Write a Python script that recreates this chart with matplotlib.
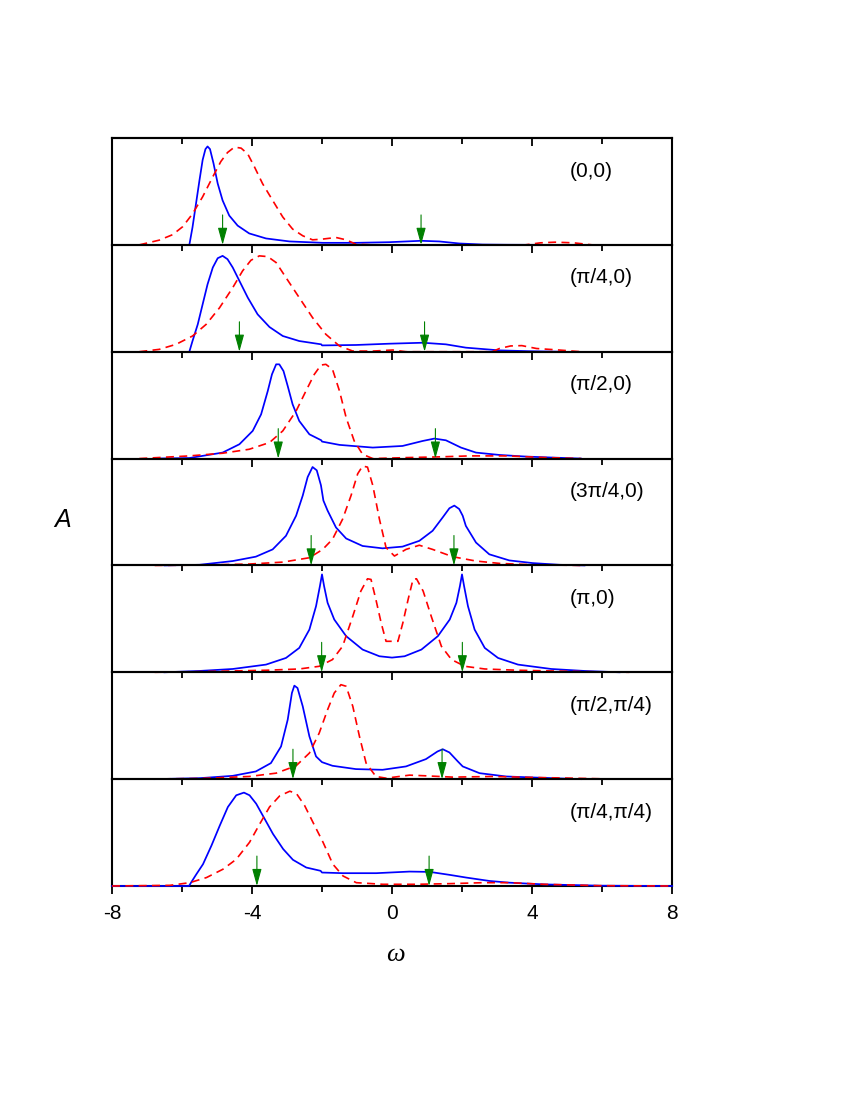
import matplotlib
matplotlib.use('Agg')
import matplotlib.pyplot as plt
from matplotlib.ticker import MultipleLocator

plt.rcParams['font.family'] = ['Liberation Sans', 'DejaVu Sans']
plt.rcParams['axes.unicode_minus'] = False

# panel labels (top to bottom)
labels = ['(0,0)', '(π/4,0)', '(π/2,0)', '(3π/4,0)', '(π,0)', '(π/2,π/4)', '(π/4,π/4)']

# (0,0)
blue1_x = [-5.79, -5.70, -5.60, -5.50, -5.41, -5.33, -5.27, -5.20, -5.10, -4.98, -4.84, -4.65, -4.41, -4.08, -3.60, -2.93, -1.98, -1.03, -0.08, 0.83, 1.35, 1.92, 2.59, 3.3, 4.2]
blue1_y = [0, 0.164, 0.385, 0.606, 0.795, 0.896, 0.921, 0.896, 0.763, 0.574, 0.416, 0.274, 0.18, 0.107, 0.06, 0.032, 0.019, 0.019, 0.025, 0.038, 0.032, 0.013, 0.003, 0.001, 0]
red1_x = [-7.22, -6.65, -6.27, -5.98, -5.70, -5.41, -5.12, -4.89, -4.70, -4.50, -4.31, -4.12, -3.93, -3.70, -3.41, -3.12, -2.84, -2.55, -2.27, -1.98, -1.60, -1.31, -1.03, -0.55, 3.81, 4.24, 4.66, 5.19, 5.72]
red1_y = [0, 0.044, 0.095, 0.17, 0.29, 0.45, 0.637, 0.78, 0.864, 0.915, 0.905, 0.85, 0.73, 0.574, 0.416, 0.26, 0.148, 0.085, 0.047, 0.054, 0.069, 0.047, 0.006, 0, 0, 0.019, 0.025, 0.019, 0]

# (pi/4,0)
blue2_x = [-5.79, -5.70, -5.55, -5.41, -5.27, -5.12, -4.98, -4.84, -4.70, -4.55, -4.36, -4.12, -3.84, -3.50, -3.12, -2.65, -2.02, -2.0, -1.03, -0.08, 0.88, 1.54, 2.11, 3.07, 3.9, 4.87]
blue2_y = [0, 0.1, 0.256, 0.444, 0.631, 0.788, 0.875, 0.897, 0.866, 0.788, 0.663, 0.506, 0.35, 0.231, 0.147, 0.1, 0.069, 0.059, 0.063, 0.075, 0.084, 0.069, 0.038, 0.0125, 0.005, 0]
red2_x = [-7.22, -6.65, -6.17, -5.70, -5.31, -4.93, -4.55, -4.27, -4.03, -3.79, -3.55, -3.31, -3.03, -2.65, -2.27, -1.89, -1.50, -1.12, -0.55, 0.02, 0.40, 2.86, 3.07, 3.39, 3.71, 4.13, 4.77, 5.40]
red2_y = [0, 0.022, 0.069, 0.147, 0.256, 0.41, 0.6, 0.756, 0.856, 0.897, 0.89, 0.834, 0.694, 0.506, 0.319, 0.163, 0.053, 0.006, 0.006, 0.016, 0, 0, 0.03, 0.054, 0.057, 0.03, 0.016, 0]

# (pi/2,0)
blue3_x = [-6.78, -5.79, -4.84, -4.36, -3.98, -3.74, -3.55, -3.43, -3.31, -3.22, -3.10, -2.98, -2.84, -2.65, -2.36, -2.02, -2.0, -1.50, -0.55, 0.30, 0.88, 1.21, 1.54, 1.97, 2.40, 3.07, 3.81, 4.87, 5.4]
blue3_y = [0, 0.005, 0.056, 0.134, 0.259, 0.414, 0.632, 0.788, 0.882, 0.882, 0.819, 0.679, 0.508, 0.352, 0.227, 0.171, 0.159, 0.128, 0.103, 0.118, 0.165, 0.187, 0.171, 0.103, 0.056, 0.034, 0.019, 0.006, 0]
red3_x = [-7.22, -5.79, -4.84, -4.08, -3.50, -3.12, -2.74, -2.46, -2.22, -2.03, -1.89, -1.70, -1.50, -1.31, -1.08, -0.84, -0.55, 0.40, 1.35, 2.22, 3.28, 4.34, 5.4]
red3_y = [0, 0.025, 0.05, 0.087, 0.15, 0.259, 0.445, 0.632, 0.788, 0.875, 0.882, 0.835, 0.632, 0.383, 0.165, 0.04, 0, 0.009, 0.016, 0.025, 0.025, 0.01, 0]

# (3pi/4,0)
blue4_x = [-6.5, -5.50, -4.55, -3.89, -3.41, -3.03, -2.74, -2.55, -2.41, -2.27, -2.15, -2.03, -1.96, -1.84, -1.60, -1.31, -0.84, -0.27, 0.30, 0.78, 1.16, 1.45, 1.64, 1.78, 1.92, 2.02, 2.11, 2.40, 2.78, 3.35, 4.02, 4.78, 5.5]
blue4_y = [0, 0.006, 0.041, 0.082, 0.15, 0.277, 0.465, 0.654, 0.827, 0.921, 0.89, 0.75, 0.607, 0.513, 0.355, 0.252, 0.182, 0.16, 0.176, 0.23, 0.324, 0.45, 0.535, 0.56, 0.528, 0.465, 0.37, 0.214, 0.104, 0.047, 0.022, 0.006, 0]
red4_x = [-6.78, -5.5, -4.08, -3.12, -2.36, -1.98, -1.70, -1.41, -1.17, -0.98, -0.84, -0.70, -0.55, -0.36, -0.17, 0.07, 0.40, 0.78, 1.16, 1.73, 2.40, 3.07, 4.02, 5.4]
red4_y = [0, 0.003, 0.013, 0.031, 0.072, 0.15, 0.245, 0.434, 0.654, 0.858, 0.93, 0.92, 0.75, 0.434, 0.167, 0.088, 0.15, 0.189, 0.15, 0.082, 0.041, 0.019, 0.006, 0]

# (pi,0)
blue5_x = [-6.5, -5.50, -4.55, -3.60, -3.03, -2.65, -2.36, -2.17, -2.06, -2.0, -1.94, -1.84, -1.65, -1.31, -0.84, -0.36, 0,
           0.36, 0.84, 1.31, 1.65, 1.84, 1.94, 2.0, 2.06, 2.17, 2.36, 2.65, 3.03, 3.60, 4.55, 5.50, 6.5]
blue5_y = [0, 0.0125, 0.031, 0.072, 0.134, 0.228, 0.40, 0.619, 0.806, 0.916, 0.806, 0.65, 0.494, 0.338, 0.2125, 0.15, 0.1375,
           0.15, 0.2125, 0.338, 0.494, 0.65, 0.806, 0.916, 0.806, 0.619, 0.40, 0.228, 0.134, 0.072, 0.031, 0.0125, 0]
red5_x = [-6.78, -5.5, -3.60, -2.65, -2.08, -1.70, -1.41, -1.12, -0.89, -0.70, -0.60, -0.46, -0.31, -0.17, 0,
          0.17, 0.31, 0.46, 0.60, 0.70, 0.89, 1.12, 1.41, 1.70, 2.08, 2.65, 3.60, 5.5, 6.78]
red5_y = [0, 0.006, 0.019, 0.031, 0.056, 0.119, 0.244, 0.525, 0.76, 0.875, 0.869, 0.681, 0.4625, 0.29, 0.29,
          0.29, 0.4625, 0.681, 0.869, 0.875, 0.76, 0.525, 0.244, 0.119, 0.056, 0.031, 0.019, 0.006, 0]

# (pi/2,pi/4)
blue6_x = [-6.78, -5.50, -4.55, -3.89, -3.46, -3.17, -2.98, -2.86, -2.79, -2.70, -2.55, -2.36, -2.17, -2.0, -1.70, -1.03, -0.27, 0.40, 0.97, 1.30, 1.45, 1.64, 1.88, 2.02, 2.50, 3.26, 4.59, 5.4]
blue6_y = [0, 0.009, 0.031, 0.072, 0.15, 0.306, 0.556, 0.806, 0.875, 0.853, 0.681, 0.40, 0.2125, 0.159, 0.125, 0.094, 0.0875, 0.119, 0.1875, 0.259, 0.28, 0.25, 0.166, 0.119, 0.056, 0.025, 0.009, 0]
red6_x = [-7.31, -5.5, -4.08, -3.31, -2.74, -2.36, -2.08, -1.84, -1.65, -1.46, -1.31, -1.12, -0.93, -0.74, -0.46, -0.17, 0.50, 0.97, 1.73, 2.88, 4.02, 5.0, 6.46]
red6_y = [0, 0.006, 0.025, 0.056, 0.125, 0.244, 0.431, 0.65, 0.806, 0.884, 0.869, 0.681, 0.40, 0.15, 0.025, 0.009, 0.0375, 0.031, 0.019, 0.025, 0.016, 0.01, 0]

# (pi/4,pi/4)
blue7_x = [-8, -5.80, -5.73, -5.59, -5.40, -5.16, -4.92, -4.69, -4.45, -4.23, -4.07, -3.88, -3.64, -3.40, -3.11, -2.83, -2.45, -2.04, -2.0, -1.40, -0.45, 0.50, 1.08, 1.65, 2.12, 2.79, 3.36, 4.34, 5.93, 8]
blue7_y = [0, 0, 0.038, 0.11, 0.204, 0.377, 0.566, 0.739, 0.849, 0.874, 0.849, 0.77, 0.629, 0.487, 0.346, 0.245, 0.173, 0.142, 0.126, 0.12, 0.12, 0.135, 0.132, 0.104, 0.079, 0.047, 0.031, 0.015, 0.003, 0]
red7_x = [-8, -6.35, -5.78, -5.30, -4.83, -4.45, -4.07, -3.78, -3.50, -3.21, -2.92, -2.73, -2.50, -2.26, -1.97, -1.69, -1.40, -1.02, -0.26, 0.70, 1.65, 2.60, 3.36, 4.34, 5.93, 8]
red7_y = [0, 0.006, 0.031, 0.079, 0.157, 0.25, 0.409, 0.58, 0.739, 0.843, 0.887, 0.865, 0.755, 0.597, 0.409, 0.204, 0.094, 0.031, 0.016, 0.016, 0.022, 0.031, 0.031, 0.016, 0.003, 0]

blue_x = [blue1_x, blue2_x, blue3_x, blue4_x, blue5_x, blue6_x, blue7_x]
blue_y = [blue1_y, blue2_y, blue3_y, blue4_y, blue5_y, blue6_y, blue7_y]
red_x = [red1_x, red2_x, red3_x, red4_x, red5_x, red6_x, red7_x]
red_y = [red1_y, red2_y, red3_y, red4_y, red5_y, red6_y, red7_y]

# green arrow positions (two per panel)
arrow_left = [-4.84, -4.36, -3.25, -2.31, -2.01, -2.83, -3.86]
arrow_right = [0.83, 0.93, 1.24, 1.77, 2.01, 1.43, 1.06]
arrow_top = 0.28

fig = plt.figure(figsize=(8.5, 11), dpi=100)
left, right, top, bottom = 112 / 850, 672 / 850, 1 - 138 / 1100, 1 - 886 / 1100
n = len(labels)
h = (top - bottom) / n

axes = []
for i in range(n):
    ax = fig.add_axes([left, top - (i + 1) * h, right - left, h], facecolor='none')
    axes.append(ax)
    last = (i == n - 1)
    z = 3 if last else 2
    ax.plot(blue_x[i], blue_y[i], color='#0000ff', lw=1.25, zorder=z, clip_on=False)
    ax.plot(red_x[i], red_y[i], color='#ff0000', lw=1.2, ls=(0, (4.8, 3.2)), zorder=z + 0.1, clip_on=False)
    for xa in (arrow_left[i], arrow_right[i]):
        ax.annotate('', xy=(xa, 0), xytext=(xa, arrow_top),
                    arrowprops=dict(arrowstyle='-|>,head_length=0.8,head_width=0.22',
                                    color='#008000', lw=0.8, mutation_scale=13,
                                    shrinkA=0, shrinkB=0), zorder=4)
    ax.text(0.818, 0.69, labels[i], transform=ax.transAxes, fontsize=15,
            ha='left', va='center')
    ax.set_xlim(-8, 8)
    ax.set_ylim(0, 1)
    ax.set_yticks([])
    ax.xaxis.set_major_locator(MultipleLocator(4))
    ax.xaxis.set_minor_locator(MultipleLocator(2))
    ax.tick_params(axis='x', which='both', direction='out', width=1.3, top=False, bottom=True)
    ax.tick_params(axis='x', which='major', length=6)
    ax.tick_params(axis='x', which='minor', length=4)
    for sp in ax.spines.values():
        sp.set_linewidth(1.5)
    if last:
        ax.tick_params(axis='x', labelsize=15, pad=7)
    else:
        ax.tick_params(axis='x', labelbottom=False)

# inward ticks along the very top
sec = axes[0].secondary_xaxis('top')
sec.xaxis.set_major_locator(MultipleLocator(4))
sec.xaxis.set_minor_locator(MultipleLocator(2))
sec.tick_params(which='both', direction='in', width=1.3, labeltop=False)
sec.tick_params(which='major', length=6)
sec.tick_params(which='minor', length=4)
sec.spines['top'].set_linewidth(1.5)

fig.text(0.073, 0.527, 'A', fontsize=18, style='italic', ha='center', va='center')
fig.text(0.465, 0.132, 'ω', fontsize=19, style='italic', family='Liberation Serif',
         ha='center', va='center')

fig.savefig('out.png', dpi=100)
